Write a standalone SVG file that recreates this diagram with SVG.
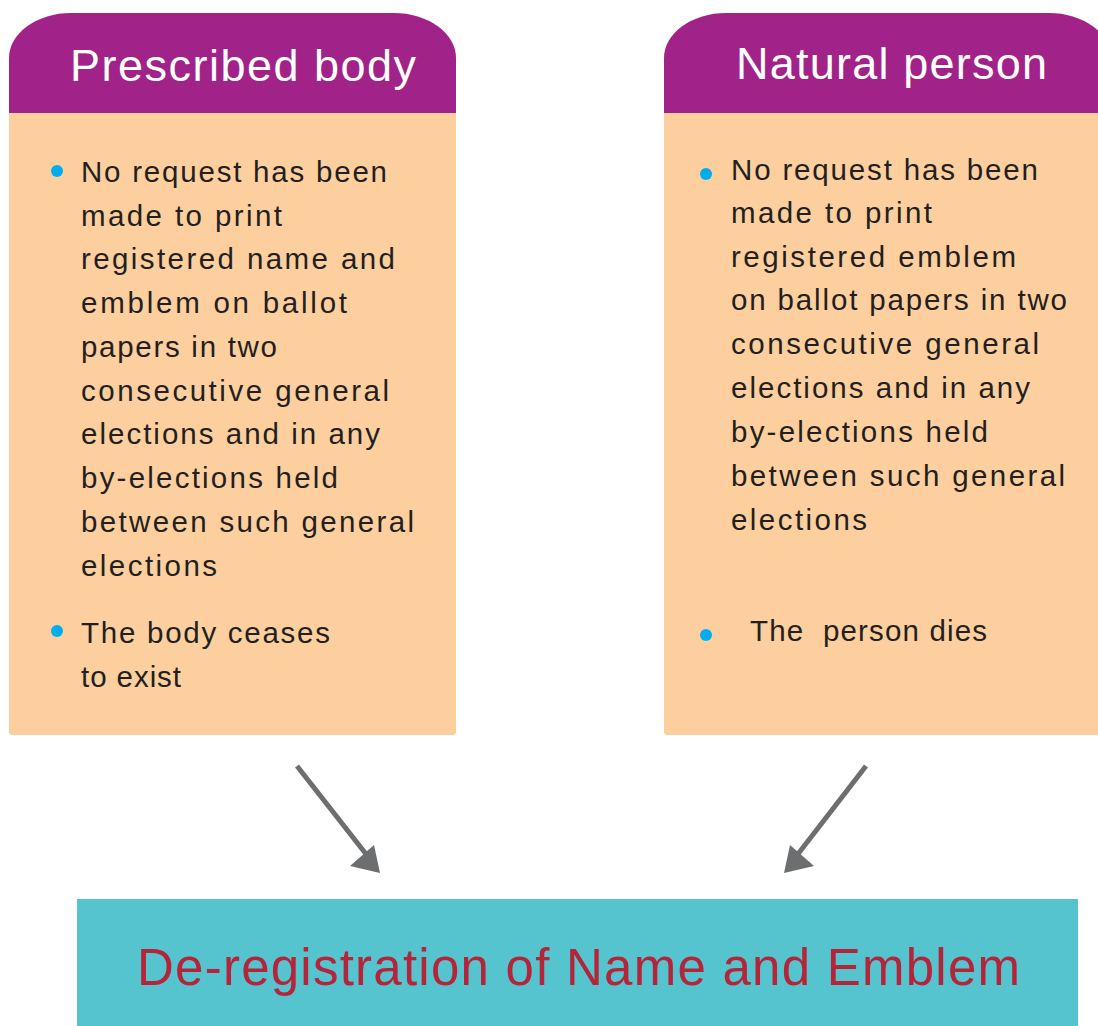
<svg xmlns="http://www.w3.org/2000/svg" width="1098" height="1026" viewBox="0 0 1098 1026">
<defs>
<style>
.head{fill:#a1238a}
.body{fill:#fdcf9e}
.ht{font-family:"Liberation Sans",Arial,sans-serif;font-size:45px;fill:#ffffff}
.bt{font-family:"Liberation Sans",Arial,sans-serif;font-size:29.5px;fill:#231f20}
.dot{fill:#00aeef}
.arr{stroke:#6d6e70;stroke-width:5;fill:none}
.ah{fill:#6d6e70}
.ft{font-family:"Liberation Sans",Arial,sans-serif;font-size:51px;fill:#b5253a}
</style>
</defs>
<rect width="1098" height="1026" fill="#ffffff"/>
<g id="prescribed-body">
<rect class="body" x="9" y="110" width="447" height="625" rx="3"/>
<path class="head" d="M9,113 V58 A62,45 0 0 1 71,13 H394 A62,45 0 0 1 456,58 V113 Z"/>
<text class="ht" x="70" y="81" textLength="346" lengthAdjust="spacing">Prescribed body</text>
<circle class="dot" cx="57" cy="171" r="6"/>
<text class="bt" x="81" y="182" textLength="306" lengthAdjust="spacing">No request has been</text>
<text class="bt" x="81" y="226" textLength="201" lengthAdjust="spacing">made to print</text>
<text class="bt" x="81" y="269" textLength="314" lengthAdjust="spacing">registered name and</text>
<text class="bt" x="81" y="313" textLength="266" lengthAdjust="spacing">emblem on ballot</text>
<text class="bt" x="81" y="357" textLength="196" lengthAdjust="spacing">papers in two</text>
<text class="bt" x="81" y="401" textLength="308" lengthAdjust="spacing">consecutive general</text>
<text class="bt" x="81" y="444" textLength="299" lengthAdjust="spacing">elections and in any</text>
<text class="bt" x="81" y="488" textLength="257" lengthAdjust="spacing">by-elections held</text>
<text class="bt" x="81" y="532" textLength="333" lengthAdjust="spacing">between such general</text>
<text class="bt" x="81" y="576" textLength="136" lengthAdjust="spacing">elections</text>
<circle class="dot" cx="57" cy="631" r="6"/>
<text class="bt" x="81" y="643" textLength="249" lengthAdjust="spacing">The body ceases</text>
<text class="bt" x="81" y="687" textLength="100" lengthAdjust="spacing">to exist</text>
</g>
<g id="natural-person">
<rect class="body" x="664" y="110" width="450" height="625" rx="3"/>
<path class="head" d="M664,113 V58 A62,45 0 0 1 726,13 H1049 A62,45 0 0 1 1111,58 V113 Z"/>
<text class="ht" x="736" y="79" textLength="311" lengthAdjust="spacing">Natural person</text>
<circle class="dot" cx="706" cy="174" r="6"/>
<text class="bt" x="731" y="180" textLength="307" lengthAdjust="spacing">No request has been</text>
<text class="bt" x="731" y="223" textLength="201" lengthAdjust="spacing">made to print</text>
<text class="bt" x="731" y="267" textLength="285" lengthAdjust="spacing">registered emblem</text>
<text class="bt" x="731" y="310" textLength="336" lengthAdjust="spacing">on ballot papers in two</text>
<text class="bt" x="731" y="354" textLength="308" lengthAdjust="spacing">consecutive general</text>
<text class="bt" x="731" y="398" textLength="299" lengthAdjust="spacing">elections and in any</text>
<text class="bt" x="731" y="442" textLength="257" lengthAdjust="spacing">by-elections held</text>
<text class="bt" x="731" y="486" textLength="334" lengthAdjust="spacing">between such general</text>
<text class="bt" x="731" y="530" textLength="136" lengthAdjust="spacing">elections</text>
<circle class="dot" cx="706" cy="635" r="6"/>
<text class="bt" x="750" y="641" textLength="237" lengthAdjust="spacing" xml:space="preserve">The  person dies</text>
</g>
<g id="deregistration">
<rect x="77" y="899" width="1001" height="127" fill="#56c4cf"/>
<text class="ft" x="137" y="985" textLength="883" lengthAdjust="spacing">De-registration of Name and Emblem</text>
</g>
<g id="connectors">
<line class="arr" x1="297" y1="766" x2="366" y2="854"/>
<polygon class="ah" points="380,873 350,866 374,845"/>
<line class="arr" x1="866" y1="766" x2="798" y2="854"/>
<polygon class="ah" points="784,873 790,845 814,866"/>
</g>
</svg>
